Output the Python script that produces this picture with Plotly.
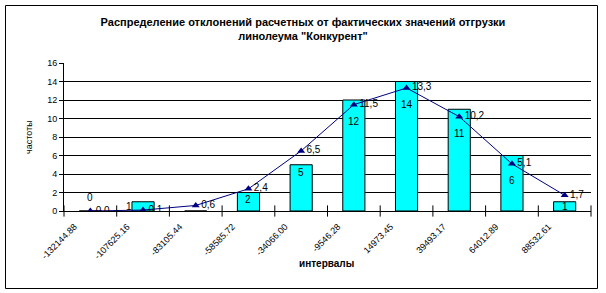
import plotly.graph_objects as go

# ---- data ----
intervals = ["-132144.88", "-107625.16", "-83105.44", "-58585.72", "-34066.00",
             "-9546.28", "14973.45", "39493.17", "64012.89", "88532.61"]
freq_actual = [0, 1, 0, 2, 5, 12, 14, 11, 6, 1]
freq_theor = [0.0, 0.1, 0.6, 2.4, 6.5, 11.5, 13.3, 10.2, 5.1, 1.7]

title_text = ("Распределение отклонений расчетных от фактических значений отгрузки"
              "<br>линолеума \"Конкурент\"")
y_title = "частоты"
x_title = "интервалы"

FONT = "Liberation Sans, Arial, sans-serif"
cats = list(range(len(intervals)))

fig = go.Figure()
fig.add_trace(go.Bar(
    x=cats, y=freq_actual,
    marker=dict(color="#00FFFF", line=dict(color="black", width=1)),
    showlegend=False, hoverinfo="skip"))
fig.add_trace(go.Scatter(
    x=cats, y=freq_theor, mode="lines+markers+text",
    line=dict(color="#000080", width=1),
    marker=dict(symbol="triangle-up", size=7, color="#000080"),
    text=[f"{v:.1f}".replace(".", ",") for v in freq_theor],
    textposition="middle right",
    textfont=dict(family=FONT, size=10, color="black"),
    showlegend=False, hoverinfo="skip"))

annotations = []
for i, (b, l) in enumerate(zip(freq_actual, freq_theor)):
    xs, ys = 0, 0
    if b == 0:
        if l > 0:
            continue
        y, ys = 0, 14
    else:
        if l < b:
            y = max(l - 1.8, b / 2)
        else:
            y = max(b - 0.8, b / 2)
        if abs(y - l) < 1:
            xs = -14
    annotations.append(dict(x=i, y=y, xref="x", yref="y", text=str(b),
                            showarrow=False, yshift=ys, xshift=xs,
                            font=dict(family=FONT, size=10, color="black")))

W, H = 606, 293
L, R, T, B = 64, 15, 63, 82
pw, ph = W - L - R, H - T - B

def px(xp):
    return (xp - L) / pw

def py(yp):
    return (H - B - yp) / ph

annotations.append(dict(x=px(22), y=py(137), xref="paper", yref="paper",
                        text=y_title, textangle=-90, showarrow=False,
                        font=dict(family=FONT, size=9, color="black")))
annotations.append(dict(x=px(326), y=py(271), xref="paper", yref="paper",
                        text=f"<b>{x_title}</b>", showarrow=False,
                        font=dict(family=FONT, size=10, color="black")))

fig.update_layout(
    width=W, height=H,
    margin=dict(l=L, r=R, t=T, b=B),
    paper_bgcolor="white", plot_bgcolor="white",
    bargap=0.58,
    title=dict(text=f"<b>{title_text}</b>", x=0.5, xref="container",
               y=1 - 26 / H, yref="container", xanchor="center", yanchor="middle",
               font=dict(family=FONT, size=11, color="black")),
    xaxis=dict(type="linear", range=[-0.5, len(cats) - 0.5],
               tickmode="array", tickvals=cats, ticktext=intervals,
               tickangle=-45, ticks="", showgrid=False, zeroline=False,
               showline=True, linecolor="black", linewidth=1,
               ticklabelshift=-16, ticklabelstandoff=6,
               tickfont=dict(family=FONT, size=9, color="black")),
    yaxis=dict(range=[0, 16], dtick=2, showgrid=True, gridcolor="black",
               gridwidth=1, zeroline=False, showline=True, linecolor="black",
               linewidth=1, ticks="outside", ticklen=4, tickcolor="black",
               tickfont=dict(family=FONT, size=9, color="black")),
    annotations=annotations,
    shapes=[dict(type="rect", xref="paper", yref="paper",
                 x0=px(5.5), x1=px(597.5), y0=py(288.5), y1=py(5.5),
                 line=dict(color="black", width=1))],
)

# boundary tick marks on x axis (between categories)
fig.add_trace(go.Scatter(
    x=[c - 0.5 for c in cats] + [len(cats) - 0.5], y=[0] * (len(cats) + 1),
    mode="markers", marker=dict(symbol="line-ns", size=8,
                                line=dict(color="black", width=1)),
    showlegend=False, hoverinfo="skip", cliponaxis=False))

fig.write_html("out.html")
